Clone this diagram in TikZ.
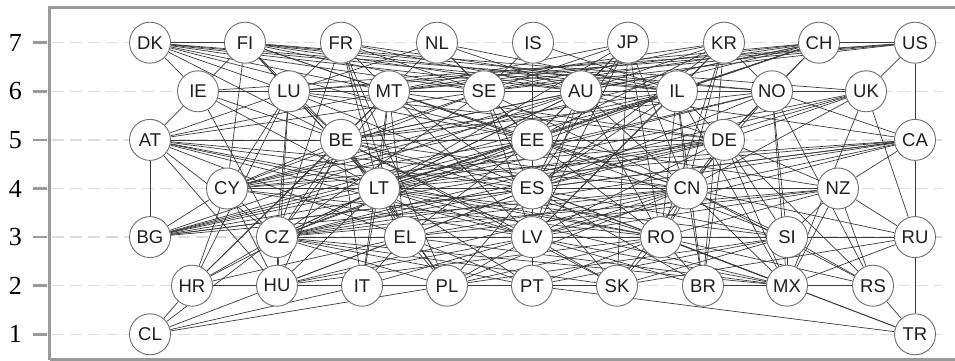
\documentclass[tikz,border=0pt]{standalone}
\usepackage{fontspec}
\setmainfont{Liberation Serif}
\setsansfont{Liberation Sans}
\usetikzlibrary{backgrounds}
\definecolor{axisgray}{HTML}{9A9A9A}
\definecolor{gridgray}{HTML}{DCDCDC}
\definecolor{ringgray}{HTML}{6E6E6E}
\definecolor{linkgray}{HTML}{3A3A3A}
\tikzset{
	country/.style={circle,draw=ringgray,fill=white,line width=0.9pt,minimum size=41pt,inner sep=0pt,text=black!88,font=\sffamily\fontsize{18.5}{18.5}\selectfont},
	link/.style={draw=linkgray,line width=0.7pt},
	gridline/.style={draw=gridgray,line width=1.3pt,dash pattern=on 12pt off 6pt},
	axisline/.style={draw=axisgray,line width=2.6pt},
	ticklabel/.style={anchor=east,inner sep=0pt,font=\fontsize{26}{26}\selectfont}
}
\begin{document}
\begin{tikzpicture}
		\useasboundingbox (0,0) rectangle (955pt,361pt);
		\draw[axisline] (49.5pt,1.3pt) -- (49.5pt,353.7pt) -- (955pt,353.7pt) (49.5pt,1.3pt) -- (955pt,1.3pt);
		\begin{scope}[x=1pt,y=48.6pt,yshift=-21.9pt]
		\foreach \l in {1,...,7}{
			\draw[axisline] (33,\l) -- (47,\l);
			\node[ticklabel] (t\l) at (22,\l) {\l};
		}
		\foreach \n/\x/\l in {DK/150/7,FI/245/7,FR/341/7,NL/437/7,IS/533/7,JP/628/7,KR/724/7,CH/819/7,US/915/7,
			IE/198/6,LU/289/6,MT/389/6,SE/484/6,AU/581/6,IL/677/6,NO/772/6,UK/866/6,
			AT/150/5,BE/341/5,EE/532/5,DE/724/5,CA/915/5,
			CY/227/4,LT/379/4,ES/532/4,CN/687/4,NZ/838/4,
			BG/150/3,CZ/277/3,EL/405/3,LV/532/3,RO/661/3,SI/787/3,RU/915/3,
			HR/192/2,HU/277/2,IT/362/2,PL/447/2,PT/532/2,SK/617/2,BR/703/2,MX/787/2,RS/873/2,
			CL/150/1,TR/915/1}
			\node[country] (\n) at (\x,\l) {\n};
		\begin{scope}[on background layer]
			\foreach \l in {1,...,7} \draw[gridline] (52,\l) -- (942,\l);
			\foreach \a/\others in {DK/{FI,IE,LU,MT,SE,AU,BE,EE,IL,NO},
				FI/{IE,LU,CY,LT,MT,SE,AU,IL,NO,BE,EE,UK},
				FR/{LU,MT,CZ,SE,LT,EL,IL,AU,PL},
				NL/{LU,MT,SE,AU,IL,EE},
				IS/{EE,SE,IL},
				JP/{SE,AU,MT,CN,RO,LV,ES,EE,LT,SK},
				KR/{NO,IL,AU,EE,CN,LV,RO,MT,SE,ES,BR},
				CH/{NO,IL,AU,SE,MT,EE,BE,LT,LU,CY,US,DE},
				US/{UK,CA,MT,SE,LU,IE},
				IE/{AT,LU,MT,CZ,BE,LT,SE},
				LU/{AT,MT,BE,CY,CZ,LT,EE,ES,DE,HU},
				MT/{AT,SE,BE,LT,EE,ES,IL,DE,CZ,EL,IT,LV,CN,NO},
				SE/{AT,BE,EE,AU,IL,NO,ES,CY,LV,CN,CZ},
				AU/{BE,EE,IL,ES,LT,CY,DE,LV,CN,CZ,RO,CA,BG},
				IL/{BE,NO,DE,ES,LT,CN,LV,RO,CY,BG,CZ,UK,BR,MX},
				NO/{UK,CA,DE,SI,MX,RS,BE,LT,ES,CN,BG},
				UK/{MX,RU,DE,CN,LT,CZ,ES},
				AT/{BG,HU,BE,LT,ES,CN,LV,EL,RO,CZ},
				BE/{CY,LT,CZ,EL,ES,EE,LV,CN,RO,HU,PL,SK,IT},
				EE/{ES,LT,CY,DE,CN,LV,RO,CZ,BG,EL,SI,NZ,PT},
				DE/{ES,CN,LT,LV,RO,SI,NZ,CY,CZ,BG,BR,MX,RS},
				CA/{CN,LT,CY,ES,CZ,LV,RU,NZ,BG},
				CY/{BG,CZ,HU,HR,LT,ES,CN,LV,NZ,RO},
				LT/{BG,CZ,HU,EL,ES,CN,LV,RO,NZ,SI,IT,PL,PT,HR,MX},
				ES/{BG,CZ,LV,CN,RO,NZ,SI,EL,PL,PT,SK,BR,MX,HU},
				CN/{BG,CZ,LV,RO,NZ,SI,EL,PL,SK,BR,MX,RS,RU,HU},
				NZ/{CZ,LV,RO,EL,SI,RU,MX,RS},
				CZ/{HU,HR,EL,LV,RO,SI,PL,PT,SK,MX,CL},
				EL/{LV,RO,SI,IT,PL,PT,HU,HR,MX},
				LV/{RO,SI,PL,PT,SK,BR,MX,HU,IT},
				RO/{SI,PL,PT,SK,BR,MX,RS,TR,HU,RU},
				SI/{RU,MX,RS,PL,SK,PT},
				HR/{HU,CL,LU,BE,MT},
				HU/{CL,PL,SK},
				CL/{IT,PL},
				PT/{TR},
				MX/{RU,RS,TR,BR},
				RS/{TR},
				RU/{TR,SK}}
				\foreach \b in \others \draw[link] (\a) -- (\b);
		\end{scope}
		\end{scope}
	\end{tikzpicture}
\end{document}
